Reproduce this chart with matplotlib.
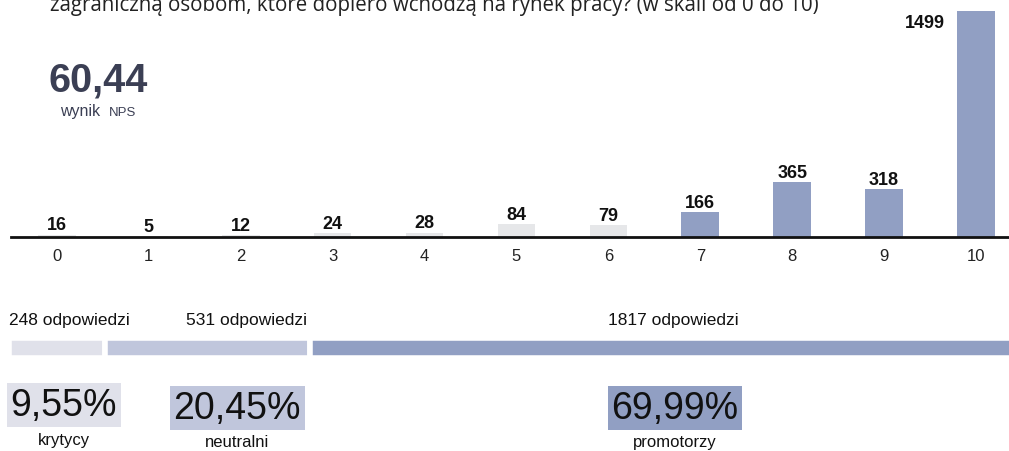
import matplotlib
matplotlib.use("Agg")
import matplotlib.pyplot as plt
import numpy as np

# ---- data ----
scores = list(range(11))
score_labels = [str(s) for s in scores]
counts = [16, 5, 12, 24, 28, 84, 79, 166, 365, 318, 1499]
group_names = ["krytycy", "neutralni", "promotorzy"]
group_counts = [248, 531, 1817]
group_pct = ["9,55%", "20,45%", "69,99%"]
nps_value = "60,44"
title = "zagraniczną osobom, które dopiero wchodzą na rynek pracy? (w skali od 0 do 10)"

# ---- style ----
W, H = 1009, 452
C_GREY = "#e6e7e9"
C_BLUE = "#919fc3"
group_colors = ["#e0e1ea", "#c0c6dc", "#919fc3"]
DARK = "#3b3f54"
FONT = "Liberation Sans"
plt.rcParams["font.family"] = [FONT, "DejaVu Sans"]

fig = plt.figure(figsize=(W / 100, H / 100), dpi=100)

def fx(px):
    return px / W

def fy(py):
    return 1 - py / H

# ---- main bar chart ----
base_px = 238
left_px = 11
slot_px = 91.9
ax = fig.add_axes([fx(left_px), fy(base_px), 1 - fx(left_px), base_px / H])
ymax = max(counts) * base_px / 226
bar_colors = [C_GREY if s <= 6 else C_BLUE for s in scores]
ax.bar(scores, counts, width=0.41, color=bar_colors, zorder=1)
ax.set_xlim(-0.5, -0.5 + (W - left_px) / slot_px)
ax.set_ylim(0, ymax)
for sp in ["top", "right", "left"]:
    ax.spines[sp].set_visible(False)
ax.spines["bottom"].set_linewidth(2)
ax.spines["bottom"].set_color("#111111")
ax.spines["bottom"].set_zorder(3)
ax.set_yticks([])
ax.set_xticks(scores)
ax.set_xticklabels(score_labels, fontsize=12, color="#222222")
ax.tick_params(axis="x", length=0, pad=8)
ax.patch.set_alpha(0)

for s, c in zip(scores, counts):
    if c == max(counts):
        ax.annotate(str(c), xy=(s - 0.205, c), xytext=(-9, -2),
                    textcoords="offset points", ha="right", va="top",
                    fontsize=13, fontweight="bold", color="#111111")
    else:
        ax.annotate(str(c), xy=(s, c), xytext=(0, 1),
                    textcoords="offset points", ha="center", va="bottom",
                    fontsize=13, fontweight="bold", color="#111111")

# ---- title (cut at top, as in the source) ----
fig.text(fx(50), fy(11), title, fontsize=14.8, color="#222222",
         family=["Open Sans", "DejaVu Sans"], va="baseline", ha="left")

# ---- NPS value ----
fig.text(fx(49), fy(92), nps_value, fontsize=28.5, fontweight="bold",
         color=DARK, va="baseline", ha="left")
fig.text(fx(60), fy(116), "wynik", fontsize=11.5, color=DARK,
         va="baseline", ha="left")
fig.text(fx(109), fy(116), "NPS", fontsize=9.5, color=DARK,
         va="baseline", ha="left")

# ---- stacked bar ----
sb_left = 9
ax2 = fig.add_axes([fx(sb_left), fy(359), 1 - fx(sb_left) + fx(3), 20 / H])
total = sum(group_counts)
lefts = np.concatenate([[0], np.cumsum(group_counts)[:-1]])
ax2.barh([0], group_counts, left=lefts, height=1, color=group_colors,
         edgecolor="white", linewidth=4.0)
ax2.set_xlim(0, total)
ax2.set_ylim(-0.5, 0.5)
ax2.axis("off")

# text annotations (layout positions in pixels)
resp_x = [9, 186, 608]
pct_x = [64, 237, 675]
pct_y = [406, 409, 409]
name_y = [441, 443, 443]
for i in range(3):
    fig.text(fx(resp_x[i]), fy(321), f"{group_counts[i]} odpowiedzi",
             fontsize=12.5, color="#111111", ha="left", va="center")
    fig.text(fx(pct_x[i]), fy(pct_y[i]), group_pct[i], fontsize=27,
             color="#111111", ha="center", va="center",
             bbox=dict(boxstyle="square,pad=0.1", fc=group_colors[i],
                       ec="none"))
    fig.text(fx(pct_x[i]), fy(name_y[i]), group_names[i], fontsize=12,
             color="#111111", ha="center", va="center")

fig.savefig("out.png", dpi=100)
